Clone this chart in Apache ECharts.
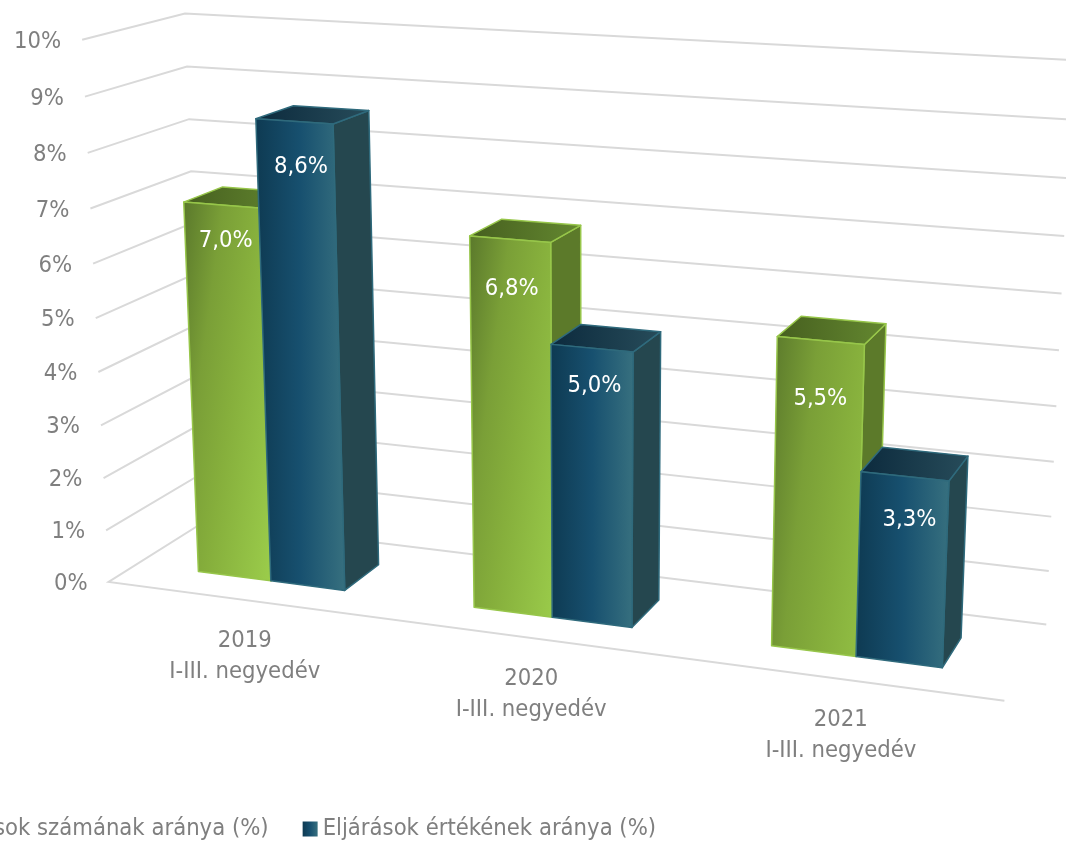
<!DOCTYPE html>
<html>
<head>
<meta charset="utf-8">
<style>html,body{margin:0;padding:0;background:#fff;overflow:hidden}</style>
<script src="https://cdn.jsdelivr.net/npm/echarts@6/dist/echarts.min.js"></script>
</head>
<body>
<div id="main" style="width:1066px;height:841px;"></div>
<script>
var categories = ['2019\nI-III. negyedév', '2020\nI-III. negyedév', '2021\nI-III. negyedév'];
var szamaValues = [7.0, 6.8, 5.5];
var ertekValues = [8.6, 5.0, 3.3];
var ticks = [0, 1, 2, 3, 4, 5, 6, 7, 8, 9, 10];
var seriesNames = ['Eljárások számának aránya (%)', 'Eljárások értékének aránya (%)'];

// nudges of the data labels from the middle of the bar's top front edge, px
var labelDrop = [[36, 50, 58], [45, 38, 44]];
var labelShift = [[4.5, 1.5, -0.5], [6.5, 2.5, 4.5]];

var FONT = '"DejaVu Sans Condensed", "DejaVu Sans", sans-serif';
var FONT_SIZE = 23.6;
var TEXT = '#7f7f7f';
var GRID = '#d9d9d9';
var BAR_W = 0.09;     // bar width in room units (room x = 0..1)
var Z0 = 0.29, Z1 = 0.69; // bar front and back in room depth

// camera anchors: room [x, y, z] -> screen [u, v], measured on the room corners
var anchors = [
    [0, 0, 0, 108, 581.5], [1, 0, 0, 1005, 700], [0, 0, 1, 205, 521.5], [1, 0, 1, 1046, 625],
    [0, 1, 0, 82, 40], [0, 1, 1, 185.5, 13], [1, 1, 1, 1072, 59.5],
    [0, 0.5, 0, 96, 319], [1, 0.5, 1, 1059, 351], [0, 0.7, 1, 190.7, 171]
];

function solveCamera(pts) {
    var rows = [], rhs = [];
    pts.forEach(function (p) {
        var X = p[0], Y = p[1], Z = p[2], u = p[3] / 1000, v = p[4] / 1000;
        rows.push([X, Y, Z, 1, 0, 0, 0, 0, -u * X, -u * Y, -u * Z]); rhs.push(u);
        rows.push([0, 0, 0, 0, X, Y, Z, 1, -v * X, -v * Y, -v * Z]); rhs.push(v);
    });
    var n = 11, M = [];
    for (var i = 0; i < n; i++) {
        M[i] = [];
        for (var j = 0; j <= n; j++) {
            var s = 0;
            for (var k = 0; k < rows.length; k++) s += rows[k][i] * (j < n ? rows[k][j] : rhs[k]);
            M[i][j] = s;
        }
    }
    for (i = 0; i < n; i++) {
        var piv = i;
        for (k = i + 1; k < n; k++) if (Math.abs(M[k][i]) > Math.abs(M[piv][i])) piv = k;
        var t = M[i]; M[i] = M[piv]; M[piv] = t;
        for (k = 0; k < n; k++) {
            if (k === i) continue;
            var f = M[k][i] / M[i][i];
            for (j = i; j <= n; j++) M[k][j] -= f * M[i][j];
        }
    }
    return M.map(function (r, idx) { return r[n] / r[idx]; });
}
var cam = solveCamera(anchors);

function project(x, y, z) {
    var w = cam[8] * x + cam[9] * y + cam[10] * z + 1;
    return [
        1000 * (cam[0] * x + cam[1] * y + cam[2] * z + cam[3]) / w,
        1000 * (cam[4] * x + cam[5] * y + cam[6] * z + cam[7]) / w
    ];
}

// grid pixel -> room x / y
function toRoom(params, api, cat, val) {
    var p = api.coord([cat, val]), cs = params.coordSys;
    return [(p[0] - cs.x) / cs.width, (cs.y + cs.height - p[1]) / cs.height];
}

function grad(stops, x2, y2) {
    return {
        type: 'linear', x: 0, y: 0, x2: x2, y2: y2,
        colorStops: stops.map(function (c) { return { offset: c[0], color: c[1] }; })
    };
}

var greenStops = [[0, '#5a782b'], [0.3, '#7a9f37'], [0.55, '#86af3c'], [1, '#9acb4a']];
var blueStops = [[0, '#0e3a52'], [0.5, '#17506f'], [1, '#37707f']];

var looks = [
    {
        top: grad([[0, '#465f1f'], [1, '#648830']], 1, 0),
        side: '#5c7a2a',
        edge: '#97c64a',
        legend: grad(greenStops, 1, 0)
    },
    {
        top: grad([[0, '#0c2a3d'], [1, '#274c5a']], 1, 0),
        side: '#25474f',
        edge: '#2f6a7c',
        legend: grad(blueStops, 1, 0)
    }
];

// green runs mostly across the face with a slow drift down it, the same on every bar
function frontFill(idx, w, h) {
    return idx === 0 ? grad(greenStops, 131 / w, 18 / h) : grad(blueStops, 1, 0);
}

function face(pts, fill, edge) {
    return { type: 'polygon', shape: { points: pts }, style: { fill: fill, stroke: edge, lineWidth: 1.5, lineJoin: 'round' } };
}

function barRenderer(idx) {
    return function (params, api) {
        var cat = api.value(0), val = api.value(1);
        var r = toRoom(params, api, cat, val);
        var x0 = idx === 0 ? r[0] - BAR_W : r[0];
        var x1 = x0 + BAR_W;
        var top = r[1];
        var look = looks[idx];
        var fbl = project(x0, 0, Z0), fbr = project(x1, 0, Z0), bbr = project(x1, 0, Z1);
        var ftl = project(x0, top, Z0), ftr = project(x1, top, Z0);
        var btl = project(x0, top, Z1), btr = project(x1, top, Z1);
        var mid = [(ftl[0] + ftr[0]) / 2, (ftl[1] + ftr[1]) / 2];
        return {
            type: 'group',
            children: [
                face([fbr, bbr, btr, ftr], look.side, look.edge),
                face([ftl, ftr, btr, btl], look.top, look.edge),
                face([fbl, fbr, ftr, ftl], frontFill(idx, fbr[0] - ftl[0], fbr[1] - ftl[1]), look.edge),
                {
                    type: 'text', z2: 5,
                    style: {
                        x: mid[0] + labelShift[idx][cat], y: mid[1] + labelDrop[idx][cat],
                        text: val.toFixed(1).replace('.', ',') + '%',
                        fill: '#fff', font: FONT_SIZE + 'px ' + FONT, align: 'center', verticalAlign: 'middle'
                    }
                }
            ]
        };
    };
}

function renderWall(params, api) {
    var r = toRoom(params, api, 0, api.value(1));
    var y = r[1];
    var a = project(0, y, 0), b = project(0, y, 1), c = project(1, y, 1);
    var pts = y === 0 ? [project(1, 0, 0), a, b, c] : [a, b, c];
    return {
        type: 'group',
        children: [
            { type: 'polyline', shape: { points: pts }, style: { fill: null, stroke: GRID, lineWidth: 2 } },
            {
                type: 'text',
                style: {
                    x: a[0] - 21, y: a[1] + 2, text: api.value(1) + '%',
                    fill: TEXT, font: FONT_SIZE + 'px ' + FONT, align: 'right', verticalAlign: 'middle'
                }
            }
        ]
    };
}

function renderCategory(params, api) {
    var i = api.value(0);
    var r = toRoom(params, api, i, 0);
    var p = project(r[0], 0, 0);
    return {
        type: 'text',
        style: {
            x: p[0] + 1, y: p[1] + 25, text: categories[i],
            fill: TEXT, font: FONT_SIZE + 'px ' + FONT, lineHeight: 31, align: 'center', verticalAlign: 'top'
        }
    };
}

var myChart = echarts.init(document.getElementById('main'), null, { renderer: 'canvas' });
myChart.setOption({
    animation: false,
    grid: { left: 0, top: 0, width: 1066, height: 841 },
    xAxis: { type: 'category', data: categories, show: false },
    yAxis: { type: 'value', min: 0, max: 10, show: false },
    legend: {
        data: seriesNames,
        left: -91, top: 812, itemWidth: 15, itemHeight: 15, itemGap: 34, width: 1000,
        icon: 'rect', selectedMode: false,
        textStyle: { color: TEXT, fontSize: FONT_SIZE, fontFamily: FONT }
    },
    series: [
        {
            type: 'custom', name: 'rács', silent: true, clip: false,
            renderItem: renderWall,
            encode: { x: 0, y: 1 },
            data: ticks.map(function (t) { return [0, t]; })
        },
        {
            type: 'custom', name: seriesNames[0], silent: true, clip: false,
            itemStyle: { color: looks[0].legend },
            renderItem: barRenderer(0),
            encode: { x: 0, y: 1 },
            data: szamaValues.map(function (v, i) { return [i, v]; })
        },
        {
            type: 'custom', name: seriesNames[1], silent: true, clip: false,
            itemStyle: { color: looks[1].legend },
            renderItem: barRenderer(1),
            encode: { x: 0, y: 1 },
            data: ertekValues.map(function (v, i) { return [i, v]; })
        },
        {
            type: 'custom', name: 'kategóriák', silent: true, clip: false,
            renderItem: renderCategory,
            encode: { x: 0, y: 1 },
            data: categories.map(function (c, i) { return [i, 0]; })
        }
    ]
});
</script>
</body>
</html>
